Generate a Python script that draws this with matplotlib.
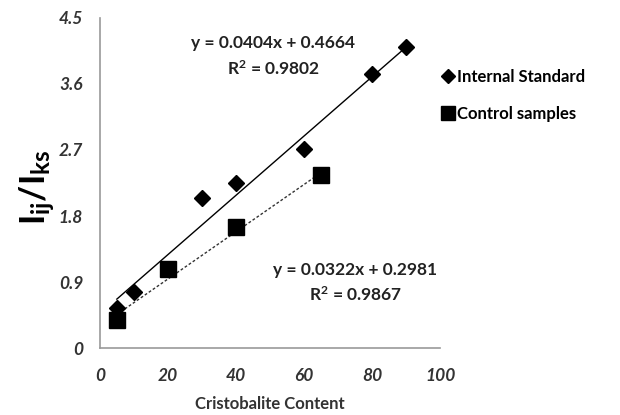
import numpy as np
import matplotlib.pyplot as plt

plt.rcParams['font.family'] = ['Lato', 'DejaVu Sans']
plt.rcParams['mathtext.default'] = 'regular'

# Internal standard series
std_x = [5, 10, 30, 40, 60, 80, 90]
std_y = [0.55, 0.76, 2.05, 2.25, 2.71, 3.74, 4.10]
std_fit = (0.0404, 0.4664)
std_r2 = 0.9802

# Control samples series
ctl_x = [5, 20, 40, 65]
ctl_y = [0.38, 1.08, 1.65, 2.36]
ctl_fit = (0.0322, 0.2981)
ctl_r2 = 0.9867

x_ticks = [0, 20, 40, 60, 80, 100]
y_ticks = [0, 0.9, 1.8, 2.7, 3.6, 4.5]

fig = plt.figure(figsize=(6.2, 4.15), dpi=100)
ax = fig.add_axes([0.161, 0.161, 0.549, 0.796])

# trendlines
xs = np.array([min(std_x), max(std_x)])
ax.plot(xs, std_fit[0] * xs + std_fit[1], color='black', lw=1.0)
xc = np.array([min(ctl_x), max(ctl_x)])
ax.plot(xc, ctl_fit[0] * xc + ctl_fit[1], color='#333333', lw=1.0, ls=(0, (2, 1.5)))

ax.plot(std_x, std_y, 'D', color='black', ms=8, label='Internal Standard', zorder=3)
ax.plot(ctl_x, ctl_y, 's', color='black', ms=11.5, label='Control samples', zorder=3)

ax.set_xlim(0, 100)
ax.set_ylim(0, 4.5)
ax.set_xticks(x_ticks)
ax.set_yticks(y_ticks)
ax.set_xticklabels([str(v) for v in x_ticks])
ax.set_yticklabels(['0', '0.9', '1.8', '2.7', '3.6', '4.5'])
for lab in ax.get_xticklabels() + ax.get_yticklabels():
    lab.set_fontweight('bold')
    lab.set_fontstyle('italic')
    lab.set_fontsize(12.5)
    lab.set_color('#333333')
ax.tick_params(length=0, pad=12)
ax.tick_params(axis='x', pad=14)

for s in ['top', 'right']:
    ax.spines[s].set_visible(False)
for s in ['left', 'bottom']:
    ax.spines[s].set_color('#999999')
    ax.spines[s].set_linewidth(1.2)

ax.set_xlabel('Cristobalite Content', fontsize=12, fontweight='bold', color='#333333', labelpad=9)
fig.text(0.06, 0.55, r'I$_{ij}$/I$_{ks}$', fontsize=25, fontweight='bold',
         rotation=90, ha='center', va='center')

ax.text(0.51, 0.883, 'y = %.4fx + %.4f\nR$^2$ = %.4f' % (std_fit[0], std_fit[1], std_r2),
        transform=ax.transAxes, ha='center', va='center', fontsize=12.5,
        fontweight='bold', color='#222222', linespacing=1.5)
ax.text(0.75, 0.197, 'y = %.4fx + %.4f\nR$^2$ = %.4f' % (ctl_fit[0], ctl_fit[1], ctl_r2),
        transform=ax.transAxes, ha='center', va='center', fontsize=12.5,
        fontweight='bold', color='#222222', linespacing=1.5)

fig.legend(loc='upper left', bbox_to_anchor=(0.69, 0.87), frameon=False,
           prop={'weight': 'bold', 'size': 12}, handlelength=0.6, handletextpad=0.25,
           labelspacing=1.25, markerscale=0.85)

fig.savefig('out.png', dpi=100)
